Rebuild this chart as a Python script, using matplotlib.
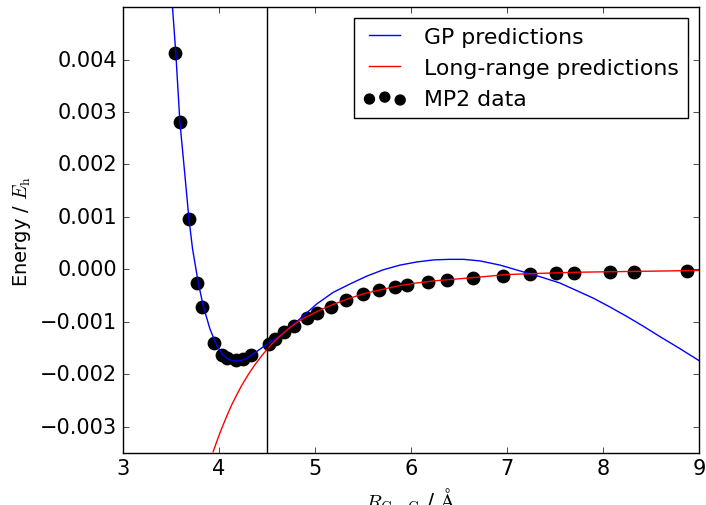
import numpy as np
import matplotlib
matplotlib.use('Agg')
import matplotlib.pyplot as plt

# MP2 data points (R in Angstrom, energy in Hartree)
r_mp2 = [3.542, 3.594, 3.684, 3.774, 3.826, 3.951, 4.028, 4.080, 4.174, 4.253,
         4.333, 4.521, 4.583, 4.677, 4.781, 4.920, 5.024, 5.163, 5.323, 5.503,
         5.663, 5.830, 5.955, 6.174, 6.375, 6.643, 6.955, 7.240, 7.507, 7.698,
         8.070, 8.326, 8.878]
e_mp2 = [0.004124, 0.002815, 0.000953, -0.000253, -0.000711, -0.001397,
         -0.001626, -0.001689, -0.001734, -0.001702, -0.001639, -0.001429,
         -0.001321, -0.001193, -0.001079, -0.000921, -0.000831, -0.000711,
         -0.000583, -0.000476, -0.000393, -0.000335, -0.000297, -0.000234,
         -0.000196, -0.000158, -0.000120, -0.000095, -0.000076, -0.000069,
         -0.000050, -0.000044, -0.000030]

# GP prediction curve
r_gp = [3.517, 3.552, 3.594, 3.643, 3.688, 3.726, 3.784, 3.836, 3.906, 3.976,
        4.045, 4.105, 4.167, 4.228, 4.288, 4.392, 4.507, 4.600, 4.705, 4.840,
        5.020, 5.190, 5.365, 5.540, 5.710, 5.885, 6.060, 6.240, 6.400, 6.550,
        6.720, 6.930, 7.135, 7.344, 7.550, 7.720, 7.900, 8.075, 8.250, 8.425,
        8.600, 8.800, 9.000]
e_gp = [0.00500, 0.00411, 0.00281, 0.00186, 0.00097, 0.00039, -0.00024,
        -0.00069, -0.00113, -0.00145, -0.00164, -0.00172, -0.00175, -0.00174,
        -0.00170, -0.00157, -0.00142, -0.00131, -0.00117, -0.00095, -0.00066,
        -0.00044, -0.00028, -0.00013, -0.00001, 0.00008, 0.00014, 0.00018,
        0.00019, 0.00019, 0.00016, 0.00008, -0.00003, -0.00014, -0.00026,
        -0.00040, -0.00055, -0.00072, -0.00090, -0.00109, -0.00129, -0.00151,
        -0.00174]

# long-range prediction curve
r_lr = [3.940, 3.985, 4.028, 4.080, 4.132, 4.184, 4.236, 4.305, 4.375, 4.445,
        4.514, 4.580, 4.650, 4.720, 4.792, 4.860, 4.930, 5.087, 5.190, 5.365,
        5.540, 5.710, 5.885, 6.060, 6.240, 6.440, 6.700, 6.990, 7.300, 7.690,
        8.000, 8.385, 8.700, 9.000]
e_lr = [-0.00348, -0.00325, -0.00304, -0.00281, -0.00259, -0.00240, -0.00222,
        -0.00201, -0.00182, -0.00165, -0.00150, -0.00137, -0.00125, -0.00114,
        -0.00104, -0.00096, -0.00089, -0.00075, -0.00067, -0.00055, -0.00045,
        -0.00038, -0.00031, -0.00026, -0.00022, -0.00019, -0.00015, -0.00010,
        -0.00008, -0.000057, -0.000048, -0.000038, -0.000030, -0.000022]

r_cut = 4.5

plt.style.use('classic')
plt.rcParams['font.family'] = 'DejaVu Sans'
plt.rcParams['mathtext.fontset'] = 'cm'
plt.rcParams['figure.facecolor'] = 'white'
plt.rcParams['savefig.facecolor'] = 'white'

fig = plt.figure(figsize=(7.06, 5.06), dpi=100)
ax = fig.add_axes([0.174, 0.103, 0.816, 0.881])

ax.plot(r_gp, e_gp, 'b-', label='GP predictions')
ax.plot(r_lr, e_lr, 'r-', label='Long-range predictions')
ax.scatter(r_mp2, e_mp2, s=80, c='k', edgecolors='k', label='MP2 data')
ax.axvline(r_cut, color='k')

ax.set_xlim(3, 9)
ax.set_ylim(-0.0035, 0.005)
ax.set_yticks(np.arange(-0.003, 0.0045, 0.001))
ax.tick_params(labelsize=15)
ax.set_xlabel(r'$R_\mathrm{C-C}$ / $\mathrm{\AA}$', fontsize=15)
ax.set_ylabel(r'Energy / $E_\mathrm{h}$', fontsize=14)

ax.legend(loc='upper right', fontsize=15.8, scatterpoints=3,
          handlelength=2, markerscale=0.8)

fig.savefig('out.png', dpi=100)
